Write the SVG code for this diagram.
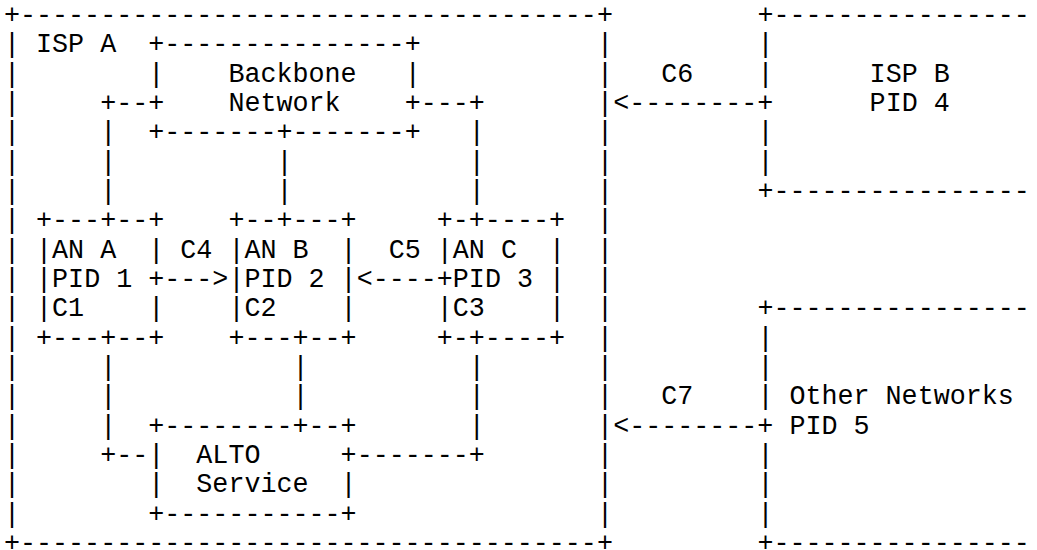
<svg xmlns="http://www.w3.org/2000/svg" width="1037" height="550" viewBox="0 0 1037 550">
<style>
.t { font-family: "Liberation Mono", "Courier New", monospace; font-size: 26.71px; fill: #000; white-space: pre; }
</style>
<rect width="1037" height="550" fill="#fff"/>
<g id="ispA">
<text class="t" x="3.99" y="23">+------------------------------------+</text>
<text class="t" x="3.99" y="551">+------------------------------------+</text>
<text class="t" x="3.99 3.99 3.99 3.99 3.99 3.99 3.99 3.99 3.99 3.99 3.99 3.99 3.99 3.99 3.99 3.99 3.99" y="52.33 81.67 111 140.33 169.67 199 228.33 257.67 287 316.33 345.67 375 404.33 433.67 463 492.33 521.67">|||||||||||||||||</text>
<text class="t" x="597.1 597.1 597.1 597.1 597.1 597.1 597.1 597.1 597.1 597.1 597.1 597.1 597.1 597.1 597.1 597.1 597.1" y="52.33 81.67 111 140.33 169.67 199 228.33 257.67 287 316.33 345.67 375 404.33 433.67 463 492.33 521.67">|||||||||||||||||</text>
<text class="t" x="36.05" y="52.33">ISP A</text>
</g>
<g id="ispB">
<text class="t" x="757.4" y="23">+----------------</text>
<text class="t" x="757.4" y="199">+----------------</text>
<text class="t" x="757.4 757.4" y="52.33 81.67">||</text>
<text class="t" x="757.4 757.4" y="140.33 169.67">||</text>
<text class="t" x="869.61" y="81.67">ISP B</text>
<text class="t" x="869.61" y="111">PID 4</text>
</g>
<g id="otherNetworks">
<text class="t" x="757.4" y="316.33">+----------------</text>
<text class="t" x="757.4" y="551">+----------------</text>
<text class="t" x="757.4 757.4 757.4" y="345.67 375 404.33">|||</text>
<text class="t" x="757.4 757.4 757.4" y="463 492.33 521.67">|||</text>
<text class="t" x="789.46" y="404.33">Other Networks</text>
<text class="t" x="789.46" y="433.67">PID 5</text>
</g>
<g id="backbone">
<text class="t" x="148.26" y="52.33">+---------------+</text>
<text class="t" x="148.26" y="140.33">+-------+-------+</text>
<text class="t" x="148.26 148.26" y="81.67 111">|+</text>
<text class="t" x="404.74 404.74" y="81.67 111">|+</text>
<text class="t" x="228.41" y="81.67">Backbone</text>
<text class="t" x="228.41" y="111">Network</text>
</g>
<g id="anA">
<text class="t" x="36.05" y="228.33">+---+--+</text>
<text class="t" x="36.05" y="345.67">+---+--+</text>
<text class="t" x="36.05 36.05 36.05" y="257.67 287 316.33">|||</text>
<text class="t" x="148.26 148.26 148.26" y="257.67 287 316.33">|+|</text>
<text class="t" x="52.08" y="257.67">AN A</text>
<text class="t" x="52.08" y="287">PID 1</text>
<text class="t" x="52.08" y="316.33">C1</text>
</g>
<g id="anB">
<text class="t" x="228.41" y="228.33">+--+---+</text>
<text class="t" x="228.41" y="345.67">+---+--+</text>
<text class="t" x="228.41 228.41 228.41" y="257.67 287 316.33">|||</text>
<text class="t" x="340.62 340.62 340.62" y="257.67 287 316.33">|||</text>
<text class="t" x="244.44" y="257.67">AN B</text>
<text class="t" x="244.44" y="287">PID 2</text>
<text class="t" x="244.44" y="316.33">C2</text>
</g>
<g id="anC">
<text class="t" x="436.8" y="228.33">+-+----+</text>
<text class="t" x="436.8" y="345.67">+-+----+</text>
<text class="t" x="436.8 436.8 436.8" y="257.67 287 316.33">|+|</text>
<text class="t" x="548.99 548.99 548.99" y="257.67 287 316.33">|||</text>
<text class="t" x="452.83" y="257.67">AN C</text>
<text class="t" x="452.83" y="287">PID 3</text>
<text class="t" x="452.83" y="316.33">C3</text>
</g>
<g id="alto">
<text class="t" x="148.26" y="433.67">+--------+--+</text>
<text class="t" x="148.26" y="521.67">+-----------+</text>
<text class="t" x="148.26 148.26" y="463 492.33">||</text>
<text class="t" x="340.62 340.62" y="463 492.33">+|</text>
<text class="t" x="196.35" y="463">ALTO</text>
<text class="t" x="196.35" y="492.33">Service</text>
</g>
<g id="connectors">
<text class="t" x="100.17" y="111">+--</text>
<text class="t" x="100.17 100.17 100.17" y="140.33 169.67 199">|||</text>
<text class="t" x="276.5 276.5" y="169.67 199">||</text>
<text class="t" x="420.77" y="111">---+</text>
<text class="t" x="468.86 468.86 468.86" y="140.33 169.67 199">|||</text>
<text class="t" x="180.32" y="257.67">C4</text>
<text class="t" x="164.29" y="287">---&gt;</text>
<text class="t" x="388.71" y="257.67">C5</text>
<text class="t" x="356.65" y="287">&lt;----</text>
<text class="t" x="661.22" y="81.67">C6</text>
<text class="t" x="613.13" y="111">&lt;--------+</text>
<text class="t" x="661.22" y="404.33">C7</text>
<text class="t" x="613.13" y="433.67">&lt;--------+</text>
<text class="t" x="100.17 100.17 100.17" y="375 404.33 433.67">|||</text>
<text class="t" x="100.17" y="463">+--</text>
<text class="t" x="292.53 292.53" y="375 404.33">||</text>
<text class="t" x="468.86 468.86 468.86" y="375 404.33 433.67">|||</text>
<text class="t" x="356.65" y="463">-------+</text>
</g>
</svg>
